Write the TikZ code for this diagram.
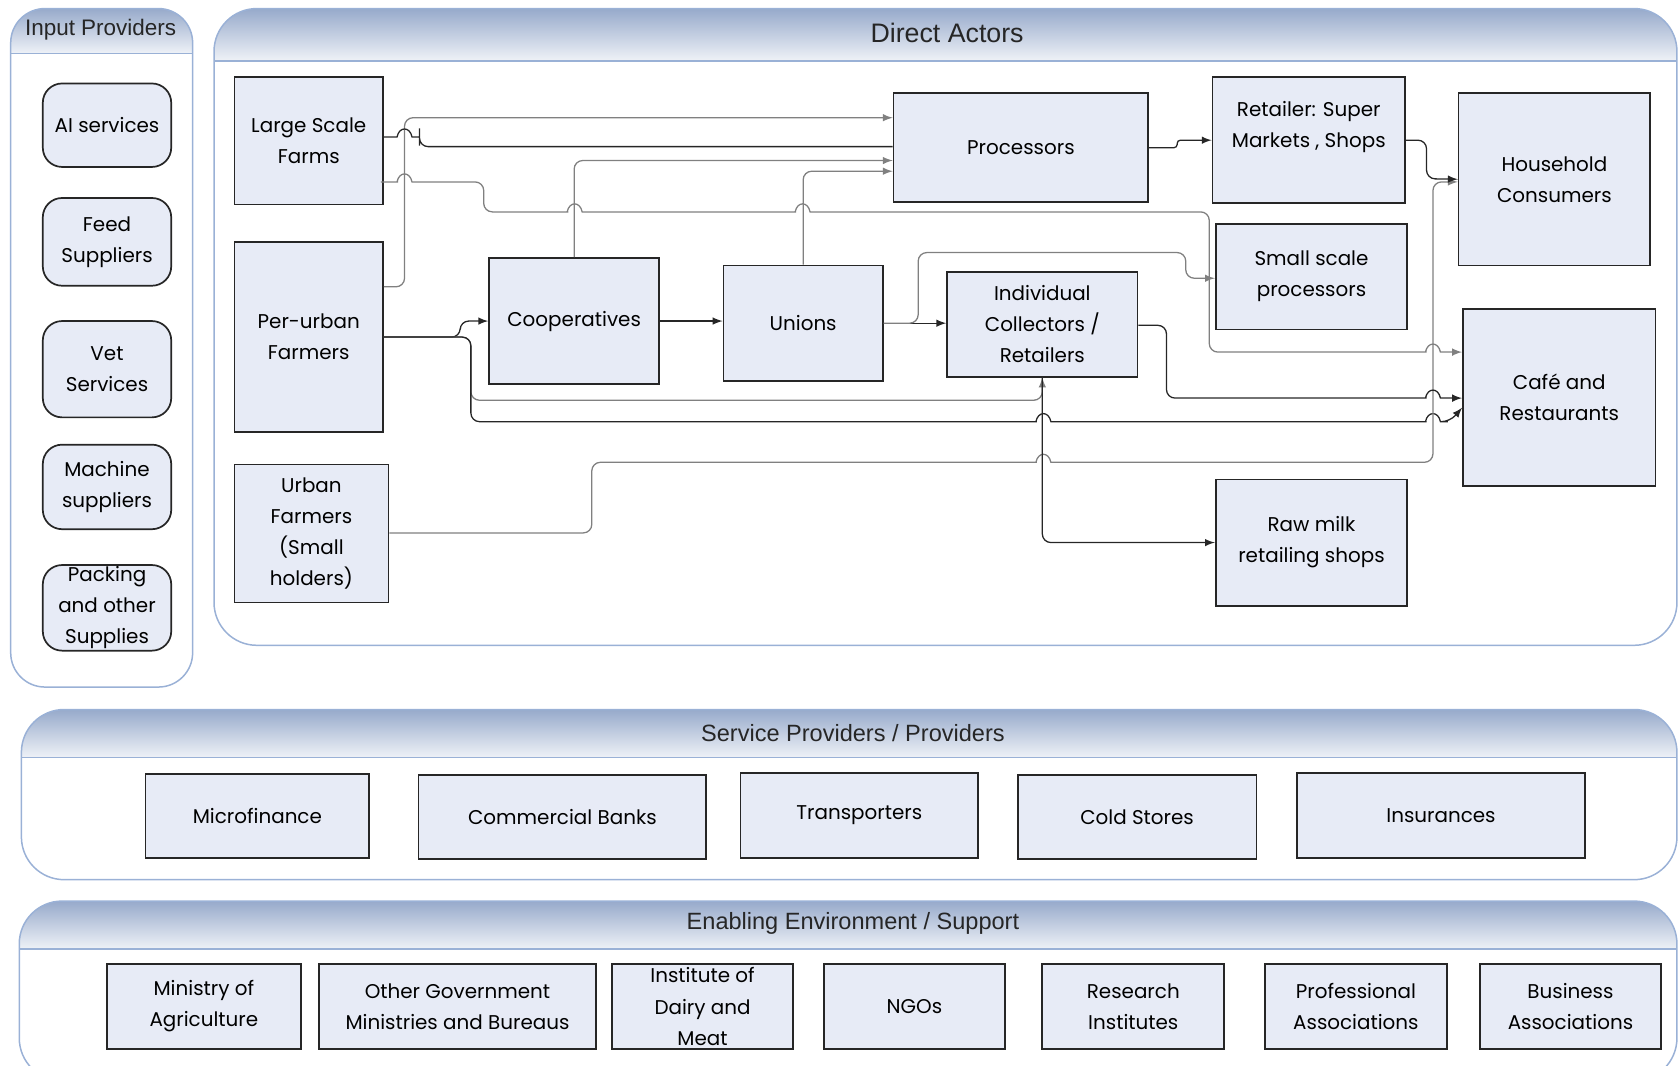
\documentclass[tikz,border=0pt]{standalone}
\usepackage{fontspec}
\setmainfont{Liberation Sans}
\newfontfamily\boxfont{Poppins}
\usepackage{tikz}
\usetikzlibrary{arrows.meta,calc}

\definecolor{panelline}{HTML}{9AB1D6}
\definecolor{headtop}{HTML}{97AACB}
\definecolor{headbot}{HTML}{EFF2F7}
\definecolor{boxfill}{HTML}{E7EBF6}

\begin{document}
\begin{tikzpicture}[x=0.5pt,y=-0.5pt,
    boxsize/.style 2 args={minimum width=#1*0.5pt,minimum height=#2*0.5pt},
    actor/.style={draw=black!85,line width=0.8pt,fill=boxfill,align=center,inner sep=0pt,
      font=\boxfont\fontsize{9.3}{14.5}\selectfont},
    inbox/.style={actor,rounded corners=9pt},
    panel/.style={draw=panelline,line width=0.7pt},
    head/.style={text=black!85,font=\fontsize{11}{13}\selectfont},
    flow/.style={draw=black!85,line width=0.6pt,rounded corners=4pt,-latex},
    flowlight/.style={flow,draw=black!50},
    link/.style={flow,-,rounded corners=0.5pt}]
    \def\hop#1#2{-- (#1-14,#2) [sharp corners] -- (#1-7,#2) .. controls (#1-5,#2-10) and (#1+5,#2-10) .. (#1+7,#2) -- (#1+14,#2) [rounded corners=4pt]}
    \clip (0,0) rectangle (1568,996);
    % Draw the panels
    \begin{scope}
      \clip[rounded corners=16pt] (10,8) rectangle (180,642);
      \shade[top color=headtop,bottom color=headbot] (10,8) rectangle (180,50);
    \end{scope}
    \draw[panel,rounded corners=16pt] (10,8) rectangle (180,642);
    \draw[panel] (10,50) -- (180,50);
    \begin{scope}
      \clip[rounded corners=20pt] (200,8) rectangle (1567,603);
      \shade[top color=headtop,bottom color=headbot] (200,8) rectangle (1567,57);
    \end{scope}
    \draw[panel,rounded corners=20pt] (200,8) rectangle (1567,603);
    \draw[panel] (200,57) -- (1567,57);
    \begin{scope}
      \clip[rounded corners=20pt] (20,663) rectangle (1567,822);
      \shade[top color=headtop,bottom color=headbot] (20,663) rectangle (1567,708);
    \end{scope}
    \draw[panel,rounded corners=20pt] (20,663) rectangle (1567,822);
    \draw[panel] (20,708) -- (1567,708);
    \begin{scope}
      \clip[rounded corners=20pt] (18,842) rectangle (1567,1010);
      \shade[top color=headtop,bottom color=headbot] (18,842) rectangle (1567,887);
    \end{scope}
    \draw[panel,rounded corners=20pt] (18,842) rectangle (1567,1010);
    \draw[panel] (18,887) -- (1567,887);
    % Headers
    \node[head,font=\fontsize{10.5}{12}\selectfont] (hdinput) at (94,28) {Input Providers};
    \node[head,font=\fontsize{12.5}{14}\selectfont] (hddirect) at (885,31) {Direct Actors};
    \node[head] (hdservice) at (797,685) {Service Providers / Providers};
    \node[head] (hdenable) at (797,863) {Enabling Environment / Support};
    % Input providers
    \node[inbox,boxsize={120}{78}] (ai) at (100,117) {AI services};
    \node[inbox,boxsize={120}{82}] (feed) at (100,226) {Feed\\Suppliers};
    \node[inbox,boxsize={120}{90}] (vet) at (100,345) {Vet\\Services};
    \node[inbox,boxsize={120}{79}] (mach) at (100,455) {Machine\\suppliers};
    \node[inbox,boxsize={120}{80}] (pack) at (100,568) {Packing\\and other\\Supplies};
    % Direct actors
    \node[actor,boxsize={139}{119}] (lsf) at (288.5,131.5) {Large Scale\\Farms};
    \node[actor,boxsize={139}{178}] (puf) at (288.5,315) {Per-urban\\Farmers};
    \node[actor,boxsize={144}{129}] (uf) at (291,498.5) {Urban\\Farmers\\(Small\\holders)};
    \node[actor,boxsize={159}{118}] (coop) at (536.5,300) {Cooperatives};
    \node[actor,boxsize={149}{108}] (unions) at (750.5,302) {Unions};
    \node[actor,boxsize={238}{102}] (proc) at (954,138) {Processors};
    \node[actor,boxsize={180}{118}] (retail) at (1223,131) {Retailer: Super\\Markets , Shops\\\mbox{}};
    \node[actor,boxsize={179}{161}] (house) at (1452.5,167.5) {Household\\Consumers};
    \node[actor,boxsize={179}{99}] (ssp) at (1225.5,258.5) {Small scale\\processors};
    \node[actor,boxsize={178}{98}] (icr) at (974,303) {Individual\\Collectors /\\Retailers};
    \node[actor,boxsize={180}{165}] (cafe) at (1457,371.5) {Café and\\Restaurants};
    \node[actor,boxsize={179}{118}] (raw) at (1225.5,507) {Raw milk\\retailing shops};
    % Service providers
    \node[actor,boxsize={209}{79}] (micro) at (240.5,762.5) {Microfinance};
    \node[actor,boxsize={269}{79}] (banks) at (525.5,763.5) {Commercial Banks};
    \node[actor,boxsize={222}{79}] (trans) at (803,762) {Transporters};
    \node[actor,boxsize={223}{79}] (cold) at (1062.5,763.5) {Cold Stores};
    \node[actor,boxsize={269}{79}] (insur) at (1346.5,762) {Insurances};
    % Enabling environment
    \node[actor,boxsize={181}{79}] (moa) at (190.5,940.5) {Ministry of\\Agriculture};
    \node[actor,boxsize={259}{79}] (ogm) at (427.5,940.5) {Other Government\\Ministries and Bureaus};
    \node[actor,boxsize={169}{79}] (idm) at (656.5,940.5) {Institute of\\Dairy and\\Meat};
    \node[actor,boxsize={169}{79}] (ngo) at (854.5,940.5) {NGOs};
    \node[actor,boxsize={170}{79}] (ri) at (1059,940.5) {Research\\Institutes};
    \node[actor,boxsize={170}{79}] (pa) at (1267,940.5) {Professional\\Associations};
    \node[actor,boxsize={169}{79}] (ba) at (1467.5,940.5) {Business\\Associations};
    % Flows from the farms
    \draw[flowlight] (puf.east |- 0,268) -- (378,268) -- (378,110) -- (proc.west |- 0,110);
    \draw[link] (lsf.east |- 0,128) \hop{378}{128} -- (392,128) -- (392,137) -- (proc.west |- 0,137);
    \draw[flowlight] (lsf.east |- 0,170) \hop{378}{170} -- (452,170) -- (452,198) \hop{537}{198} \hop{750}{198}
      -- (1130,198) -- (1130,329) \hop{1339}{329} -- (cafe.west |- 0,329);
    \draw[flow] (puf.east) -- (430,315) -- (430,300) -- (coop.west);
    \draw[flowlight] (puf.east) -- (440,315) -- (440,374) -- (icr.south |- 0,374) -- (icr.south);
    \draw[flow] (puf.east) -- (440,315) -- (440,394) \hop{975}{394} \hop{1339}{394} -- (1355,394) -- (cafe.west |- 0,381);
    \draw[flowlight] (uf.east |- 0,498) -- (553,498) -- (553,432) \hop{975}{432} -- (1339,432) -- (1339,170) -- (house.west |- 0,170);
    % Flows from the collectors
    \draw[flowlight] (coop.north) -- (coop.north |- 0,150) -- (proc.west |- 0,150);
    \draw[flowlight] (unions.north) -- (unions.north |- 0,160) -- (proc.west |- 0,160);
    \draw[flow] (coop.east) -- (unions.west |- coop.east);
    \draw[flow] (unions.east) -- (icr.west |- unions.east);
    \draw[flowlight] (unions.east) -- (858,302) -- (858,236) -- (1108,236) -- (1108,260) -- (ssp.west |- 0,260);
    \draw[flow] (icr.east |- 0,304) -- (1090,304) -- (1090,372) \hop{1339}{372} -- (cafe.west |- 0,372);
    \draw[flow] (icr.south) -- (icr.south |- raw.west) -- (raw.west);
    % Flows to the consumers
    \draw[flow,rounded corners=1.5pt] (proc.east) -- (1100,138) -- (1100,131) -- (retail.west |- 0,131);
    \draw[flow] (retail.east |- 0,131) -- (1333,131) -- (1333,167) -- (house.west);
\end{tikzpicture}
\end{document}
